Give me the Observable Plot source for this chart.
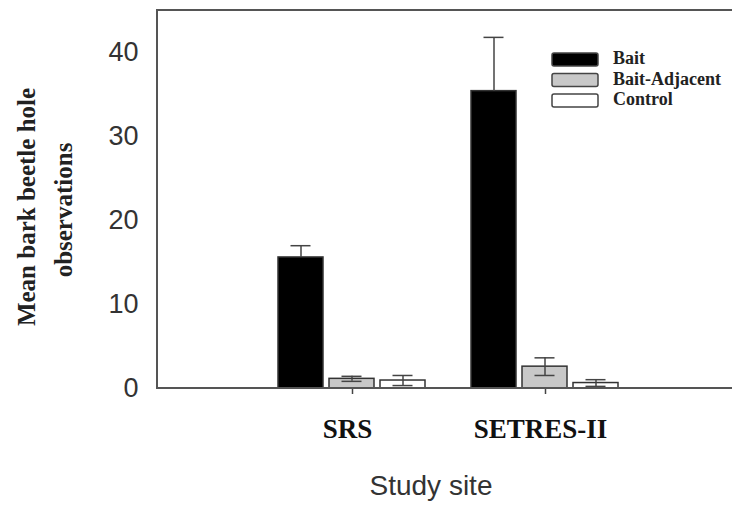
<!DOCTYPE html>
<html><head><meta charset="utf-8">
<script src="https://cdn.jsdelivr.net/npm/d3@7"></script>
<script src="https://cdn.jsdelivr.net/npm/@observablehq/plot@0.6"></script>
<style>
html,body{margin:0;padding:0;background:#fff;overflow:hidden;}
#wrap{position:relative;width:732px;height:514px;}
#wrap svg{display:block;}
</style></head><body><div id="wrap"></div>
<script>
const sites = ["SRS", "SETRES-II"];
const series = ["Bait", "Bait-Adjacent", "Control"];
const meanSRS = [15.6, 1.15, 0.95];
const seSRS = [1.4, 0.3, 0.6];
const meanSETRES = [35.4, 2.6, 0.65];
const seSETRES = [6.4, 1.05, 0.4];
const yTicks = [0, 10, 20, 30, 40];
const fills = ["#000000", "#c8c8c8", "#ffffff"];
const yTitle = ["Mean bark beetle hole", "observations"];
const xTitle = "Study site";

const rows = [];
[[meanSRS, seSRS], [meanSETRES, seSETRES]].forEach(([m, s], i) => {
  series.forEach((name, j) => {
    rows.push({site: sites[i], series: name, mean: m[j], lo: m[j] - s[j], hi: m[j] + s[j]});
  });
});

const left = 157, right = 732;
const plot = Plot.plot({
  width: 732, height: 514,
  marginTop: 10, marginBottom: 126, marginLeft: left, marginRight: 0,
  facet: {data: rows, x: "site"},
  fx: {domain: sites, paddingInner: 0.232, paddingOuter: 0.598, align: 0.517, axis: "bottom", tickSize: 6, tickPadding: 24, label: null},
  x: {domain: series, paddingInner: 0.117, paddingOuter: 0, axis: null},
  y: {domain: [0, 45], ticks: yTicks, tickSize: 0, tickPadding: 19, label: null},
  color: {domain: series, range: fills},
  marks: [
    Plot.barY(rows, {x: "series", y: "mean", fill: "series", stroke: "#333", strokeWidth: 1.5}),
    Plot.ruleX(rows, {x: "series", y1: "mean", y2: "hi", stroke: "#444", strokeWidth: 1.5}),
    Plot.tickY(rows, {x: "series", y: "hi", stroke: "#444", strokeWidth: 1.5, insetLeft: 12.5, insetRight: 12.5}),
    Plot.ruleX(rows, {filter: d => d.series !== "Bait", x: "series", y1: "lo", y2: "mean", stroke: "#444", strokeWidth: 1.5}),
    Plot.tickY(rows, {filter: d => d.series !== "Bait", x: "series", y: "lo", stroke: "#444", strokeWidth: 1.5, insetLeft: 12.5, insetRight: 12.5})
  ]
});
document.getElementById("wrap").appendChild(plot);

const svg = d3.select(plot);
// the y axis is drawn beside the first facet; move it to the frame's left edge
const shift = plot.scale("fx").apply(sites[0]) - left;
svg.selectAll('g[aria-label^="y-axis"]').each(function () {
  const t = this.getAttribute("transform") || "";
  this.setAttribute("transform", `translate(${-shift},0) ${t}`);
});
svg.selectAll('g[aria-label^="y-axis"] text')
  .style("font", '27px "Liberation Sans", Arial, sans-serif').style("fill", "#333");
svg.selectAll('g[aria-label^="fx-axis"] text')
  .style("font", 'bold 27px "Liberation Serif", "Times New Roman", serif').style("fill", "#111").attr("dx", -5);
svg.selectAll('g[aria-label^="fx-axis"] path, g[aria-label^="fx-axis"] line').style("stroke", "#444").style("stroke-width", 1.5);

const yr = plot.scale("y").range;
const frame = svg.append("g").attr("fill", "none").attr("stroke", "#555").attr("stroke-width", 2);
frame.append("path").attr("d", `M${right},${yr[1]}H${left}V${yr[0]}H${right}`);

const tf = 'bold 25px "Liberation Serif", "Times New Roman", serif';
[[35, 207], [72, 210]].forEach(([x, y], i) => {
  svg.append("text").attr("transform", `translate(${x},${y}) rotate(-90)`)
    .attr("text-anchor", "middle").style("font", tf).style("fill", "#222").text(yTitle[i]);
});
svg.append("text").attr("x", 431).attr("y", 495).attr("text-anchor", "middle")
  .style("font", '28px "Liberation Sans", Arial, sans-serif').style("fill", "#333").text(xTitle);

const leg = svg.append("g").attr("text-anchor", "start");
series.forEach((name, i) => {
  leg.append("rect").attr("x", 552).attr("y", 53 + i * 20.5).attr("width", 46).attr("height", 13)
    .attr("rx", 2).attr("fill", fills[i]).attr("stroke", "#444").attr("stroke-width", 1.5);
  leg.append("text").attr("x", 613).attr("y", 64 + i * 20.5).attr("text-anchor", "start")
    .style("font", 'bold 18px "Liberation Serif", "Times New Roman", serif').style("fill", "#222").text(name);
});
</script></body></html>
